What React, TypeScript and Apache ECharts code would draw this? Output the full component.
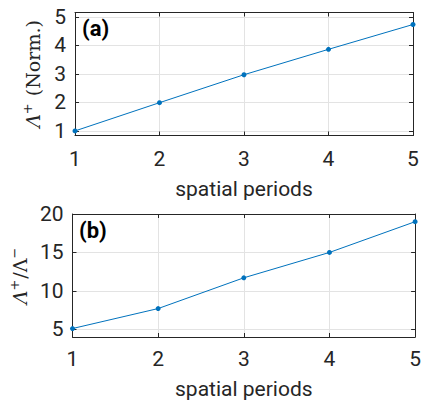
import React, { useEffect, useRef } from "react";
import * as echarts from "echarts";

const periods = [1, 2, 3, 4, 5];
const normAmp = [1.0, 1.99, 2.97, 3.86, 4.73];
const ratio = [5.1, 7.7, 11.7, 15.0, 19.0];
const ticksA = [1, 2, 3, 4, 5];
const ticksB = [5, 10, 15, 20];
const xTicks = [1, 2, 3, 4, 5];

const TXT = "#262626";
const BLUE = "#0072BD";
const GRIDC = "#e3e3e3";
const FONT = "Roboto";
const FS = 21;

function xAx(gridIndex: number, top: boolean, gap: number, margin: number) {
  return {
    type: "value",
    gridIndex,
    position: top ? "top" : "bottom",
    min: 1,
    max: 5,
    interval: 1,
    name: top ? "" : "spatial periods",
    nameLocation: "middle",
    nameGap: gap,
    nameTextStyle: { color: TXT, fontSize: FS, fontFamily: FONT },
    axisLine: { show: true, onZero: false, lineStyle: { color: TXT, width: 1 } },
    axisTick: { show: true, inside: true, length: 4, lineStyle: { color: TXT }, customValues: xTicks },
    axisLabel: { show: !top, color: TXT, fontSize: FS, fontFamily: FONT, margin, customValues: xTicks },
    splitLine: { show: !top, lineStyle: { color: GRIDC, width: 1 } },
  };
}

function yAx(gridIndex: number, right: boolean, min: number, max: number, ticks: number[], name: any, gap: number) {
  return {
    type: "value",
    gridIndex,
    position: right ? "right" : "left",
    min,
    max,
    name: right ? "" : name,
    nameLocation: "middle",
    nameRotate: 90,
    nameGap: gap,
    nameTextStyle: {
      color: TXT,
      rich: {
        it: { fontFamily: "DejaVu Serif", fontStyle: "italic", fontSize: 19, color: TXT },
        up: { fontFamily: "DejaVu Serif", fontSize: 19, color: TXT },
        sup: { fontFamily: "DejaVu Serif", fontSize: 13, color: TXT, verticalAlign: "top", padding: [0, 1, 10, 0] },
      },
    },
    axisLine: { show: true, onZero: false, lineStyle: { color: TXT, width: 1 } },
    axisTick: { show: true, inside: true, length: 4, lineStyle: { color: TXT }, customValues: ticks },
    axisLabel: { show: !right, color: TXT, fontSize: FS, fontFamily: FONT, margin: 9, customValues: ticks },
    splitLine: { show: !right, lineStyle: { color: GRIDC, width: 1 } },
  };
}

export default function App() {
  const ref = useRef<HTMLDivElement>(null);
  useEffect(() => {
    if (!ref.current) return;
    const chart = echarts.init(ref.current, null, { renderer: "svg" });
    const line = (xi: number, yi: number, data: number[]) => ({
      type: "line",
      xAxisIndex: xi,
      yAxisIndex: yi,
      data: periods.map((p, i) => [p, data[i]]),
      symbol: "circle",
      symbolSize: 5,
      lineStyle: { color: BLUE, width: 1 },
      itemStyle: { color: BLUE },
      clip: false,
    });
    chart.setOption({
      animation: false,
      grid: [
        { left: 75, top: 12.5, width: 338, height: 123, show: false },
        { left: 71.7, top: 214, width: 345, height: 125, show: false },
      ],
      xAxis: [xAx(0, false, 43, 13), xAx(0, true, 0, 0), xAx(1, false, 41, 11), xAx(1, true, 0, 0)],
      yAxis: [
        yAx(0, false, 0.84, 5.15, ticksA, "{it|Λ}{sup|+}{up| (Norm.)}", 31),
        yAx(0, true, 0.84, 5.15, ticksA, "", 0),
        yAx(1, false, 4, 20, ticksB, "{it|Λ}{sup|+}{up|/Λ}{sup|−}", 33),
        yAx(1, true, 4, 20, ticksB, "", 0),
      ],
      graphic: [
        { type: "text", left: 82, top: 17, style: { text: "(a)", fontSize: 22, fontWeight: "bold", fontFamily: FONT, fill: "#000" } },
        { type: "text", left: 79, top: 219, style: { text: "(b)", fontSize: 22, fontWeight: "bold", fontFamily: FONT, fill: "#000" } },
      ],
      series: [line(0, 0, normAmp), line(2, 2, ratio)],
    });
    return () => chart.dispose();
  }, []);
  return <div ref={ref} style={{ position: "absolute", left: 0, top: 0, width: 424, height: 400 }} />;
}
